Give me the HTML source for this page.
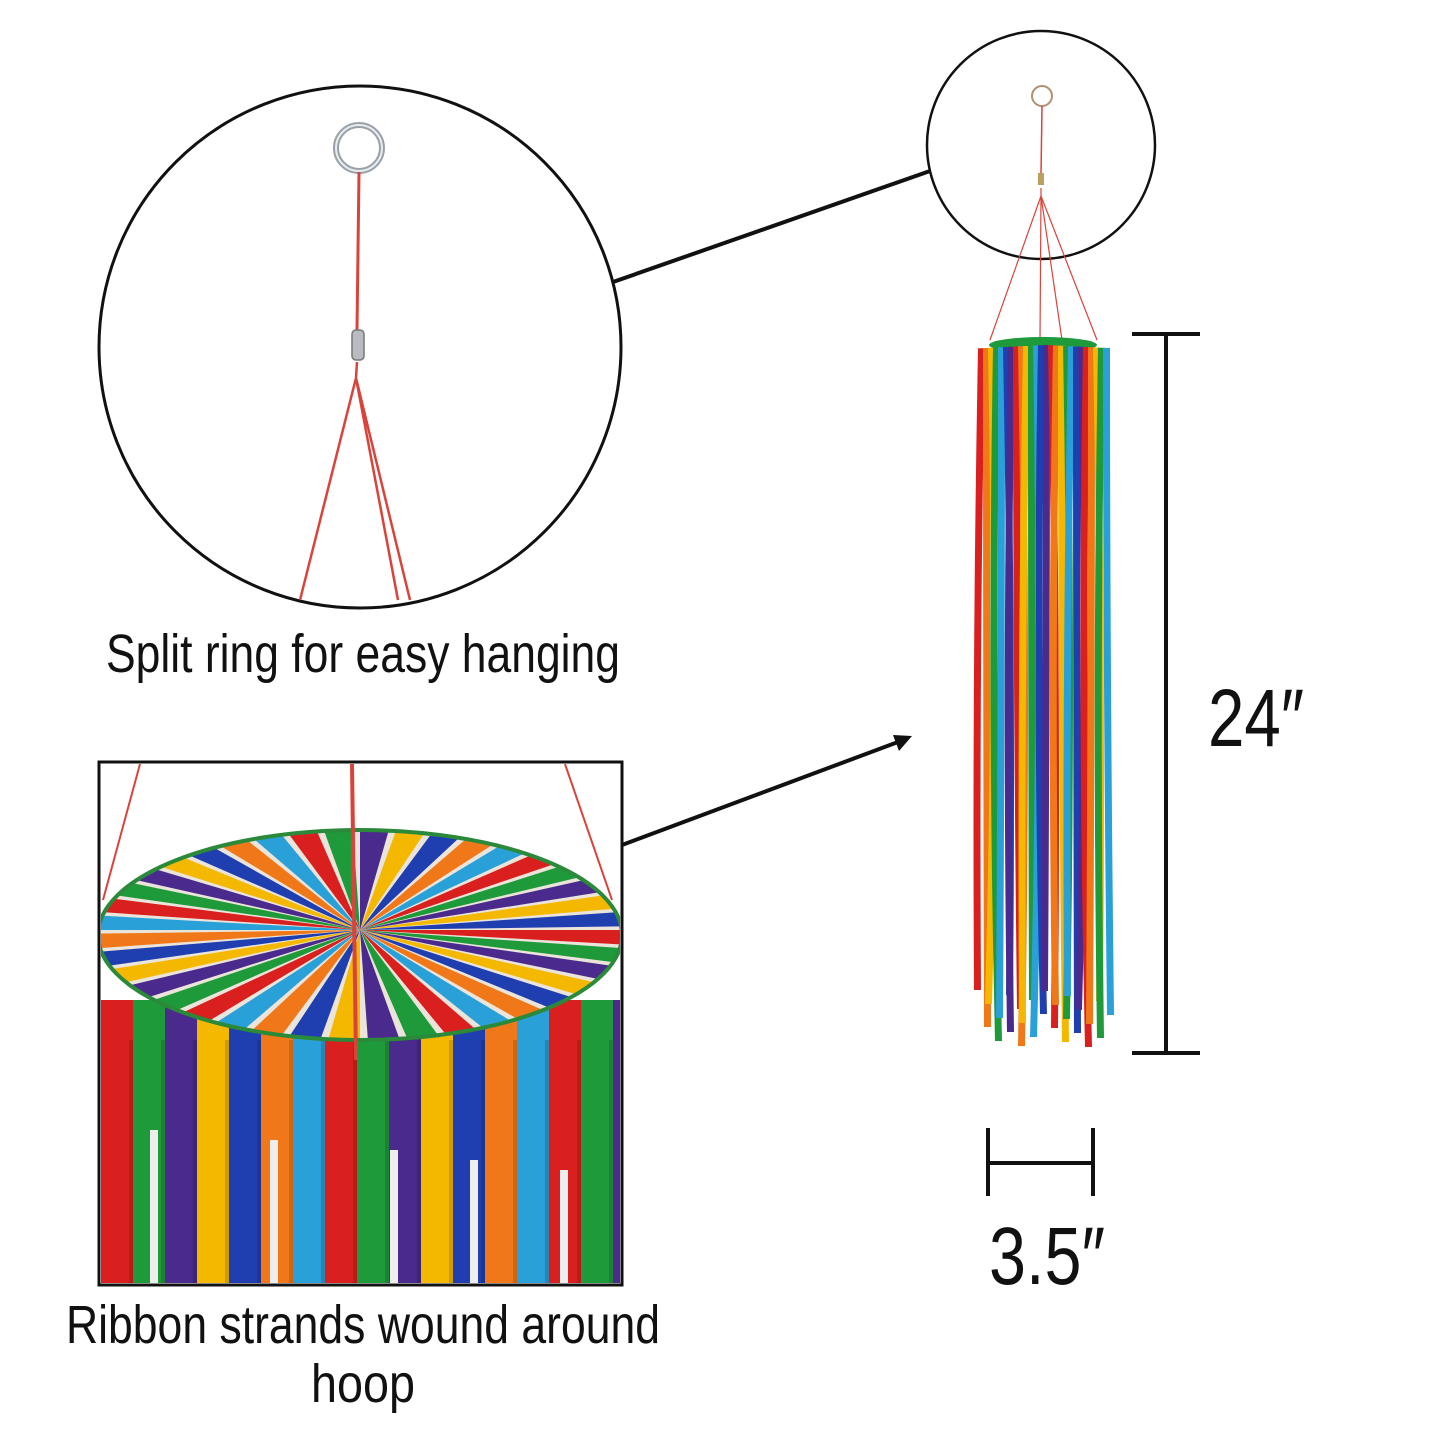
<!DOCTYPE html>
<html><head><meta charset="utf-8"><style>
html,body{margin:0;padding:0;background:#fff;}
svg{display:block}
text{font-family:"Liberation Sans",sans-serif;fill:#111;}
</style></head><body>
<svg id="s" width="1440" height="1440" viewBox="0 0 1440 1440" xmlns="http://www.w3.org/2000/svg">
<defs>
<clipPath id="box"><rect x="101" y="764" width="519" height="519"/></clipPath>
<clipPath id="top"><ellipse cx="360" cy="935" rx="262" ry="105"/></clipPath>
</defs>
<rect width="1440" height="1440" fill="#fff"/>
<circle cx="360" cy="347" r="261" fill="#fff" stroke="#111" stroke-width="3"/>
<circle cx="359" cy="148" r="23" fill="none" stroke="#9aa0a8" stroke-width="6"/>
<circle cx="359" cy="148" r="23" fill="none" stroke="#e8ecef" stroke-width="2"/>
<path d="M359 172 L357 330" stroke="#d9433a" stroke-width="3" fill="none"/>
<rect x="352" y="330" width="12" height="30" rx="4" fill="#b8bcc0" stroke="#777" stroke-width="1.5"/>
<path d="M357 362 L356 378 M356 378 L300 600 M356 378 L398 600 M356 378 L410 600" stroke="#d9433a" stroke-width="2.5" fill="none"/>
<text x="363" y="672" font-size="54" text-anchor="middle" textLength="514" lengthAdjust="spacingAndGlyphs">Split ring for easy hanging</text>
<line x1="613" y1="282" x2="930" y2="171" stroke="#111" stroke-width="4"/>
<line x1="622" y1="845" x2="898" y2="742" stroke="#111" stroke-width="4"/>
<polygon points="912,736 893,735 899,751" fill="#111"/>
<circle cx="1041" cy="145" r="114" fill="#fff" stroke="#111" stroke-width="2.5"/>
<circle cx="1042" cy="96" r="10" fill="none" stroke="#b09070" stroke-width="2"/>
<path d="M1042 106 L1041 175" stroke="#d9433a" stroke-width="1.5"/>
<rect x="1038" y="173" width="6" height="12" fill="#b8a060"/>
<path d="M1041 188 L1041 196 M1041 196 L990 340 M1041 196 L1097 340 M1041 196 L1040 340 M1041 196 L1062 340" stroke="#d9433a" stroke-width="1.2" fill="none"/>
<g id="sock"></g>
<g clip-path="url(#box)" id="boxg"><rect x="101" y="764" width="519" height="519" fill="#fff"/></g>
<rect x="99" y="762" width="523" height="523" fill="none" stroke="#111" stroke-width="3"/>
<text x="363" y="1343" font-size="54" text-anchor="middle" textLength="594" lengthAdjust="spacingAndGlyphs">Ribbon strands wound around</text>
<text x="363" y="1402" font-size="54" text-anchor="middle" textLength="104" lengthAdjust="spacingAndGlyphs">hoop</text>
<path d="M1166 333 V1053 M1132 334 H1200 M1132 1053 H1200" stroke="#111" stroke-width="4"/>
<text x="1256" y="746" font-size="82" text-anchor="middle" textLength="96" lengthAdjust="spacingAndGlyphs">24″</text>
<path d="M988 1163 H1093 M988 1128 V1196 M1093 1128 V1196" stroke="#111" stroke-width="4"/>
<text x="1047" y="1284" font-size="82" text-anchor="middle" textLength="116" lengthAdjust="spacingAndGlyphs">3.5″</text>
</svg>
<script>
var C=["#d9201f","#f07818","#f5b800","#1e9a3a","#2aa0d8","#1f3fb0","#4a2a8c"];
var NS="http://www.w3.org/2000/svg";
function el(p,t,a){var e=document.createElementNS(NS,t);for(var k in a)e.setAttribute(k,a[k]);p.appendChild(e);return e;}
(function(){
var sock=document.getElementById("sock");
el(sock,"ellipse",{cx:1043,cy:345,rx:54,ry:8,fill:"#1e9a3a"});
var x=978,i=0;
while(x<1106){var w=7;var len=990+((i*37)%60);var c=C[i%7];
 var ty=345+Math.abs(x-1043)*0.05;
 var mid=ty+(len-ty)/2;
 el(sock,"path",{d:"M"+x+" "+ty+" Q"+(x+((i%3)-1)*6)+" "+mid+" "+(x+((i*5)%9-4))+" "+len+" l"+w+" 0 Q"+(x+w+((i%3)-1)*6)+" "+mid+" "+(x+w)+" "+ty+"Z",fill:c});
 x+=5;i++;}
var b=document.getElementById("boxg");
var xs=101,j=0;while(xs<620){var ww=32;el(b,"rect",{x:xs,y:1000,width:ww,height:283,fill:C[(j*3)%7]});
 el(b,"rect",{x:xs+ww-4,y:1040,width:4,height:243,fill:"rgba(0,0,0,0.15)"});xs+=ww;j++;}
[150,270,390,470,560].forEach(function(g,k){el(b,"rect",{x:g,y:1130+k*10,width:8,height:160,fill:"#eee"});});
var tg=el(b,"g",{"clip-path":"url(#top)"});
el(tg,"rect",{x:90,y:820,width:540,height:240,fill:"#eae4da"});
var N=40;
for(var a=0;a<N;a++){var ang=a*2*Math.PI/N;var dx=Math.cos(ang)*320,dy=Math.sin(ang)*140;
 var ang2=ang+2*Math.PI/N*0.8;var dx2=Math.cos(ang2)*320,dy2=Math.sin(ang2)*140;
 el(tg,"polygon",{points:"360,930 "+(360+dx)+","+(930+dy)+" "+(360+dx2)+","+(930+dy2),fill:C[(a*3)%7]});}
el(b,"ellipse",{cx:360,cy:935,rx:262,ry:105,fill:"none",stroke:"#2a8a3a","stroke-width":4});
el(b,"path",{d:"M352 764 L356 1060",stroke:"#d9433a","stroke-width":4});
el(b,"path",{d:"M140 764 L103 900 M565 764 L612 900",stroke:"#d9433a","stroke-width":2});
})();
</script>
</body></html>
